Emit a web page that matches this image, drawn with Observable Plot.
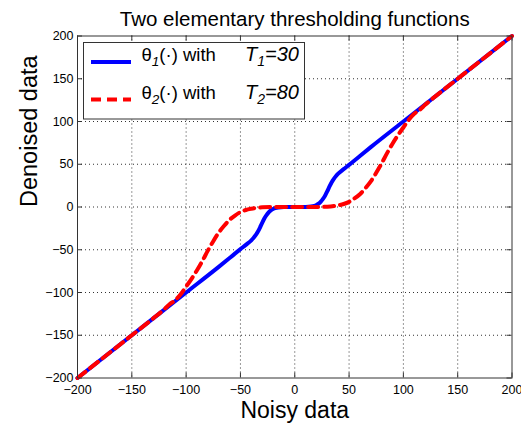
<!DOCTYPE html>
<html><head><meta charset="utf-8">
<script src="https://cdn.jsdelivr.net/npm/d3@7"></script>
<script src="https://cdn.jsdelivr.net/npm/@observablehq/plot@0.6"></script>
<style>
body{margin:0;background:#fff;}
#wrap{position:relative;width:521px;height:423px;}
#wrap svg.ov{position:absolute;left:0;top:0;pointer-events:none;}
</style></head><body>
<div id="wrap"></div>
<script>
// ---- data ----
const xTicks = [-200, -150, -100, -50, 0, 50, 100, 150, 200];
const yTicks = [-200, -150, -100, -50, 0, 50, 100, 150, 200];
const xGrid = [-150, -100, -50, 0, 50, 100, 150];
const yGrid = [-150, -100, -50, 0, 50, 100, 150];

const noisy1 = [-200,-150,-100,-70,-60,-50,-45,-40,-38,-36,-34,-32,-30,-28,-26,-24,-22,-20,-18,-15,-10,0,10,15,18,20,22,24,26,28,30,32,34,36,38,40,45,50,60,70,100,150,200];
const denoised1 = [-200,-150,-100,-70,-59.7,-49.3,-44.3,-39,-36.3,-33,-29,-24,-18.5,-13.5,-9.5,-6.3,-4,-2.4,-1.3,-0.5,-0.1,0,0.1,0.5,1.3,2.4,4,6.3,9.5,13.5,18.5,24,29,33,36.3,39,44.3,49.3,59.7,70,100,150,200];

const noisy2 = [-200,-150,-130,-120,-115,-110,-105,-100,-95,-90,-85,-80,-75,-70,-65,-60,-55,-50,-45,-40,-30,-20,0,20,30,40,45,50,55,60,65,70,75,80,85,90,95,100,105,110,115,120,130,150,200];
const denoised2 = [-200,-150,-130,-119.5,-113.5,-109,-102,-93,-84,-74,-63,-51,-40,-30,-22,-15,-10,-6,-3.5,-2,-0.3,0,0,0,0.3,2,3.5,6,10,15,22,30,40,51,63,74,84,93,102,109,113.5,119.5,130,150,200];

const seriesNames = ["θ", "θ"];
const seriesSubs = ["1", "2"];
const thresholdNames = ["T", "T"];
const thresholdValues = [30, 80];
const seriesColors = ["#0000ff", "#ff0000"];

const titleText = "Two elementary thresholding functions";
const xLabelText = "Noisy data";
const yLabelText = "Denoised data";

// ---- layout ----
const FONT = "'Liberation Sans', Arial, Helvetica, sans-serif";
const W = 521, H = 423, mL = 77, mR = 9.5, mT = 35.5, mB = 45.5;
const innerW = W - mL - mR, innerH = H - mT - mB, tk = 5;

const s1 = noisy1.map((x, i) => ({x, y: denoised1[i]}));
const s2 = noisy2.map((x, i) => ({x, y: denoised2[i]}));

const chart = Plot.plot({
  width: W, height: H,
  marginLeft: mL, marginRight: mR, marginTop: mT, marginBottom: mB,
  style: {fontFamily: FONT, fontSize: "12.5px", color: "#000", background: "#fff", overflow: "visible"},
  x: {domain: [-200, 200], ticks: xTicks, tickSize: 0, tickPadding: 7, label: null},
  y: {domain: [-200, 200], ticks: yTicks, tickSize: 0, tickPadding: 4, label: null},
  marks: [
    Plot.ruleX(xGrid, {x: d => d, stroke: "#333", strokeDasharray: "1,3"}),
    Plot.ruleY(yGrid, {y: d => d, stroke: "#333", strokeDasharray: "1,3"}),
    Plot.tickX(xTicks, {x: d => d, insetTop: innerH - tk, stroke: "#333"}),
    Plot.tickX(xTicks, {x: d => d, insetBottom: innerH - tk, stroke: "#333"}),
    Plot.tickY(yTicks, {y: d => d, insetRight: innerW - tk, stroke: "#333"}),
    Plot.tickY(yTicks, {y: d => d, insetLeft: innerW - tk, stroke: "#333"}),
    Plot.line(s1, {x: "x", y: "y", stroke: seriesColors[0], strokeWidth: 4, curve: "monotone-x"}),
    Plot.line(s2, {x: "x", y: "y", stroke: seriesColors[1], strokeWidth: 4, strokeDasharray: "10,6", curve: "monotone-x"}),
    Plot.frame({stroke: "#333"}),
    Plot.text([titleText], {text: d => d, frameAnchor: "top", dy: -10.5, lineAnchor: "bottom", fontSize: 20.5}),
    Plot.text([xLabelText], {text: d => d, frameAnchor: "bottom", dy: 40, lineAnchor: "bottom", fontSize: 23}),
    Plot.text([yLabelText], {text: d => d, frameAnchor: "left", dx: -48, rotate: -90, fontSize: 23.5})
  ]
});
const wrap = document.getElementById("wrap");
wrap.appendChild(chart);

// ---- legend overlay ----
const ov = d3.select(wrap).append("svg").attr("class", "ov")
  .attr("width", W).attr("height", H).style("font-family", FONT);
ov.append("rect").attr("x", 83.5).attr("y", 42.5).attr("width", 221).attr("height", 76.5)
  .attr("fill", "#fff").attr("stroke", "#333");
const rowsY = [62, 99.5];
seriesNames.forEach((nm, i) => {
  const yy = rowsY[i];
  ov.append("line").attr("x1", 91).attr("x2", 131).attr("y1", yy).attr("y2", yy)
    .attr("stroke", seriesColors[i]).attr("stroke-width", 4)
    .attr("stroke-dasharray", i === 1 ? "10,6" : null);
  const t = ov.append("text").attr("x", 141.5).attr("y", yy - 1).attr("font-size", 18.5).attr("fill", "#000");
  t.append("tspan").text(nm);
  t.append("tspan").attr("font-size", 13.5).attr("font-style", "italic").attr("dy", 5).text(seriesSubs[i]);
  t.append("tspan").attr("dy", -5).text("(·) with");
  t.append("tspan").attr("x", 245).attr("font-size", 20).attr("font-style", "italic").text(thresholdNames[i]);
  t.append("tspan").attr("font-size", 14).attr("font-style", "italic").attr("dy", 5).text(seriesSubs[i]);
  t.append("tspan").attr("font-size", 20).attr("font-style", "italic").attr("dy", -5).text("=" + thresholdValues[i]);
});
</script>
</body></html>
